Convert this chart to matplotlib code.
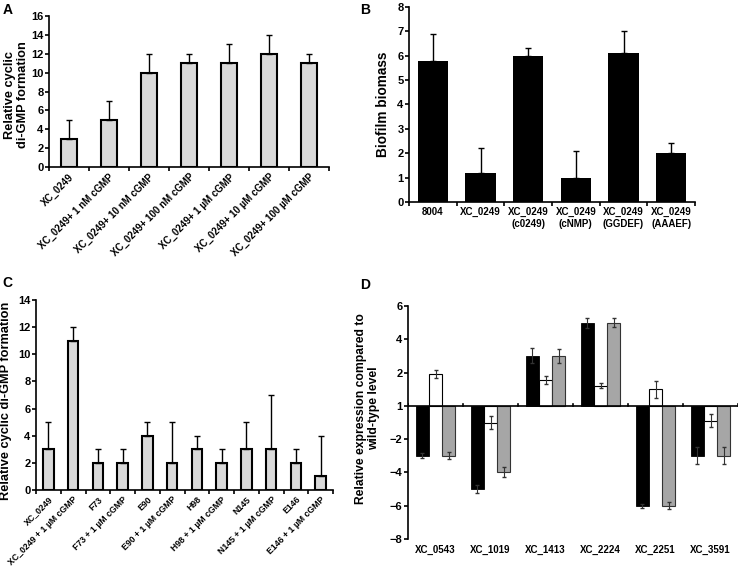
import numpy as np
import matplotlib.pyplot as plt

plt.rcParams['font.family'] = ['Liberation Sans', 'DejaVu Sans']
plt.rcParams['font.weight'] = 'bold'

# panel A
a_labels = ["XC_0249", "XC_0249+ 1 nM cGMP", "XC_0249+ 10 nM cGMP",
            "XC_0249+ 100 nM cGMP", "XC_0249+ 1 \u00b5M cGMP",
            "XC_0249+ 10 \u00b5M cGMP", "XC_0249+ 100 \u00b5M cGMP"]
a_vals = [3, 5, 10, 11, 11, 12, 11]
a_err = [2, 2, 2, 1, 2, 2, 1]

# panel B
b_labels = ["8004", "XC_0249", "XC_0249\n(c0249)", "XC_0249\n(cNMP)",
            "XC_0249\n(GGDEF)", "XC_0249\n(AAAEF)"]
b_vals = [5.8, 1.2, 6.0, 1.0, 6.1, 2.0]
b_err = [1.1, 1.0, 0.3, 1.1, 0.9, 0.4]

# panel C
c_labels = ["XC_0249", "XC_0249 + 1 \u00b5M cGMP", "F73", "F73 + 1 \u00b5M cGMP",
            "E90", "E90 + 1 \u00b5M cGMP", "H98", "H98 + 1 \u00b5M cGMP",
            "N145", "N145 + 1 \u00b5M cGMP", "E146", "E146 + 1 \u00b5M cGMP"]
c_vals = [3, 11, 2, 2, 4, 2, 3, 2, 3, 3, 2, 1]
c_err = [2, 1, 1, 1, 1, 3, 1, 1, 2, 4, 1, 3]

# panel D (positions on the drawn axis, baseline labelled "1")
d_genes = ["XC_0543", "XC_1019", "XC_1413", "XC_2224", "XC_2251", "XC_3591"]
d_black = [-3, -5, 3, 5, -6, -3]
d_black_err = [0.15, 0.25, 0.45, 0.3, 0.12, 0.5]
d_white = [1.9, -1.0, 1.55, 1.2, 1.0, -0.9]
d_white_err = [0.25, 0.4, 0.25, 0.15, 0.5, 0.4]
d_gray = [-3, -4, 3, 5, -6, -3]
d_gray_err = [0.2, 0.3, 0.4, 0.25, 0.2, 0.5]
d_ticks = [6, 4, 2, 0, -2, -4, -6, -8]
d_ticklabels = ["6", "4", "2", "1", "\u22122", "\u22124", "\u22126", "\u22128"]

W, H = 739, 573
fig = plt.figure(figsize=(W / 100, H / 100), dpi=100)


def box(l, r, t, b):
    return [l / W, 1 - b / H, (r - l) / W, (b - t) / H]


def style(ax):
    ax.spines['top'].set_visible(False)
    ax.spines['right'].set_visible(False)
    ax.spines['left'].set_linewidth(1.2)
    ax.spines['bottom'].set_linewidth(1.2)
    ax.tick_params(axis='y', labelsize=8, length=3, width=1.2, pad=1)
    for t in ax.get_yticklabels():
        t.set_fontweight('bold')


def between_ticks(ax, n):
    ax.set_xticks(np.arange(n + 1) - 0.5, minor=True)
    ax.tick_params(axis='x', which='minor', length=3, width=1.2)
    ax.tick_params(axis='x', which='major', length=0)


# A
axA = fig.add_axes(box(49, 329, 16, 167))
x = np.arange(len(a_vals))
axA.bar(x, a_vals, width=0.42, color='#d9d9d9', edgecolor='black', linewidth=1.5)
axA.errorbar(x, a_vals, yerr=[np.zeros(len(a_err)), a_err], fmt='none',
             ecolor='black', elinewidth=1, capsize=2)
axA.set_xlim(-0.5, len(a_vals) - 0.5)
axA.set_ylim(0, 16)
axA.set_yticks(range(0, 17, 2))
axA.set_xticks(x)
axA.set_xticklabels(a_labels, rotation=45, ha='right', rotation_mode='anchor',
                    fontsize=7, fontweight='bold')
style(axA)
between_ticks(axA, len(a_vals))
axA.set_ylabel("Relative cyclic\ndi-GMP formation", fontsize=9.2, fontweight='bold',
               linespacing=1.1)
axA.yaxis.set_label_coords(-0.072, 0.48)

# B
axB = fig.add_axes(box(409, 695, 7, 202))
x = np.arange(len(b_vals))
axB.bar(x, b_vals, width=0.63, color='black')
axB.errorbar(x, b_vals, yerr=[np.zeros(len(b_err)), b_err], fmt='none',
             ecolor='black', elinewidth=1, capsize=2)
axB.set_xlim(-0.5, len(b_vals) - 0.5)
axB.set_ylim(0, 8)
axB.set_yticks(range(0, 9))
axB.set_xticks(x)
axB.set_xticklabels(b_labels, fontsize=7, fontweight='bold')
style(axB)
between_ticks(axB, len(b_vals))
axB.set_ylabel("Biofilm biomass", fontsize=9.8, fontweight='bold', labelpad=5)

# C
axC = fig.add_axes(box(36, 333, 300, 490))
x = np.arange(len(c_vals))
axC.bar(x, c_vals, width=0.43, color='#d9d9d9', edgecolor='black', linewidth=1.5)
axC.errorbar(x, c_vals, yerr=[np.zeros(len(c_err)), c_err], fmt='none',
             ecolor='black', elinewidth=1, capsize=2)
axC.set_xlim(-0.5, len(c_vals) - 0.5)
axC.set_ylim(0, 14)
axC.set_yticks(range(0, 15, 2))
axC.set_xticks(x)
axC.set_xticklabels(c_labels, rotation=45, ha='right', rotation_mode='anchor',
                    fontsize=6.3, fontweight='bold')
style(axC)
between_ticks(axC, len(c_vals))
axC.set_ylabel("Relative cyclic di-GMP formation", fontsize=9.2, fontweight='bold')
axC.yaxis.set_label_coords(-0.08, 0.47)

# D
axD = fig.add_axes(box(408, 738, 306, 539))
x = np.arange(len(d_genes))
bw = 0.24
axD.bar(x - bw, d_black, width=bw, color='black', edgecolor='black', linewidth=0.6)
axD.bar(x, d_white, width=bw, color='white', edgecolor='black', linewidth=0.8)
axD.bar(x + bw, d_gray, width=bw, color='#a6a6a6', edgecolor='#333333', linewidth=0.8)
axD.errorbar(x - bw, d_black, yerr=d_black_err, fmt='none', ecolor='#333333',
             elinewidth=0.8, capsize=1.5)
axD.errorbar(x, d_white, yerr=d_white_err, fmt='none', ecolor='#333333',
             elinewidth=0.8, capsize=1.5)
axD.errorbar(x + bw, d_gray, yerr=d_gray_err, fmt='none', ecolor='#333333',
             elinewidth=0.8, capsize=1.5)
axD.axhline(0, color='black', linewidth=1.2)
axD.set_xlim(-0.5, len(d_genes) - 0.5)
axD.set_ylim(-8, 6)
axD.set_yticks(d_ticks)
axD.set_yticklabels(d_ticklabels)
axD.spines['top'].set_visible(False)
axD.spines['right'].set_visible(False)
axD.spines['bottom'].set_visible(False)
axD.spines['left'].set_linewidth(1.2)
axD.tick_params(axis='y', labelsize=8, length=3, width=1.2, pad=1)
for t in axD.get_yticklabels():
    t.set_fontweight('bold')
axD.set_xticks(x)
axD.set_xticklabels(d_genes, fontsize=7, fontweight='bold')
axD.tick_params(axis='x', which='major', length=0, pad=4)
for xb in np.arange(len(d_genes) + 1) - 0.5:
    axD.plot([xb, xb], [0, 0.12], color='black', linewidth=1.2)
axD.set_ylabel("Relative expression compared to\nwild-type level", fontsize=8.7,
               fontweight='bold', linespacing=1.1)
axD.yaxis.set_label_coords(-0.085, 0.56)

# panel letters
for lab, px, py in [("A", 3, 3), ("B", 360, 3), ("C", 2, 276), ("D", 360, 278)]:
    fig.text(px / W, 1 - py / H, lab, fontsize=10, fontweight='bold', va='top', ha='left')

fig.savefig("out.png", dpi=100)
